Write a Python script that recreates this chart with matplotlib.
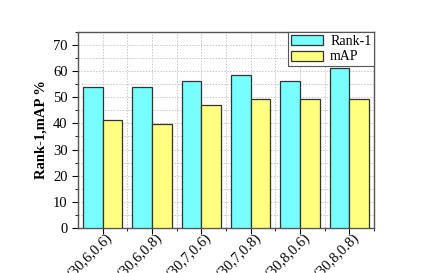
import matplotlib
matplotlib.use('Agg')
import matplotlib.pyplot as plt
from matplotlib.ticker import MultipleLocator, NullFormatter
from matplotlib.transforms import ScaledTranslation
import numpy as np

# parameter settings and scores
settings = ['(30,6,0.6)', '(30,6,0.8)', '(30,7,0.6)',
            '(30,7,0.8)', '(30,8,0.6)', '(30,8,0.8)']
rank1 = [54.0, 54.0, 56.2, 58.7, 56.2, 61.1]
mAP = [41.3, 39.8, 47.2, 49.2, 49.2, 49.2]

plt.rcParams['font.family'] = ['Liberation Serif', 'DejaVu Serif']

fig, ax = plt.subplots(figsize=(4.36, 2.73), dpi=100)
fig.subplots_adjust(left=0.179, right=0.858, top=0.883, bottom=0.165)

x = np.arange(len(settings))
w = 0.4
ax.bar(x - w/2, rank1, w, color='#77ffff', edgecolor='#333333',
       linewidth=0.9, label='Rank-1', zorder=3)
ax.bar(x + w/2, mAP, w, color='#ffff80', edgecolor='#333333',
       linewidth=0.9, label='mAP', zorder=3)

ax.set_xlim(-0.5, 5.47)
ax.set_ylim(0, 75)
ax.yaxis.set_major_locator(MultipleLocator(10))
ax.yaxis.set_minor_locator(MultipleLocator(5))
ax.set_xticks(x)
ax.set_xticks(x + 0.5, minor=True)
ax.xaxis.set_major_formatter(NullFormatter())
# rotated category labels, nudged right of the tick like the original
off = ScaledTranslation(3/100, -3/100, fig.dpi_scale_trans)
for xi, s in zip(x, settings):
    ax.text(xi, 0, s, transform=ax.get_xaxis_transform() + off,
            rotation=45, ha='right', va='top', rotation_mode='anchor',
            fontsize=10.5)
ax.tick_params(axis='y', labelsize=10.5)
ax.tick_params(which='both', direction='out', top=False, right=False)
ax.tick_params(which='major', length=4)
ax.tick_params(which='minor', length=2.5)

ax.grid(True, which='both', linestyle=(0, (1.5, 1.5)), color='#c8c8c8',
        linewidth=0.7, zorder=0)
for sp in ax.spines.values():
    sp.set_color('#555555')
    sp.set_linewidth(1.0)

ax.set_ylabel('Rank-1,mAP %', fontweight='bold', fontsize=10.5)

leg = ax.legend(loc='upper right', fontsize=10, fancybox=False,
                edgecolor='#555555', framealpha=1, borderpad=0.2,
                handlelength=2.3, handleheight=0.75, labelspacing=0.2,
                borderaxespad=0.0, handletextpad=0.5)
leg.get_frame().set_linewidth(0.8)

fig.savefig('out.png', dpi=100)
